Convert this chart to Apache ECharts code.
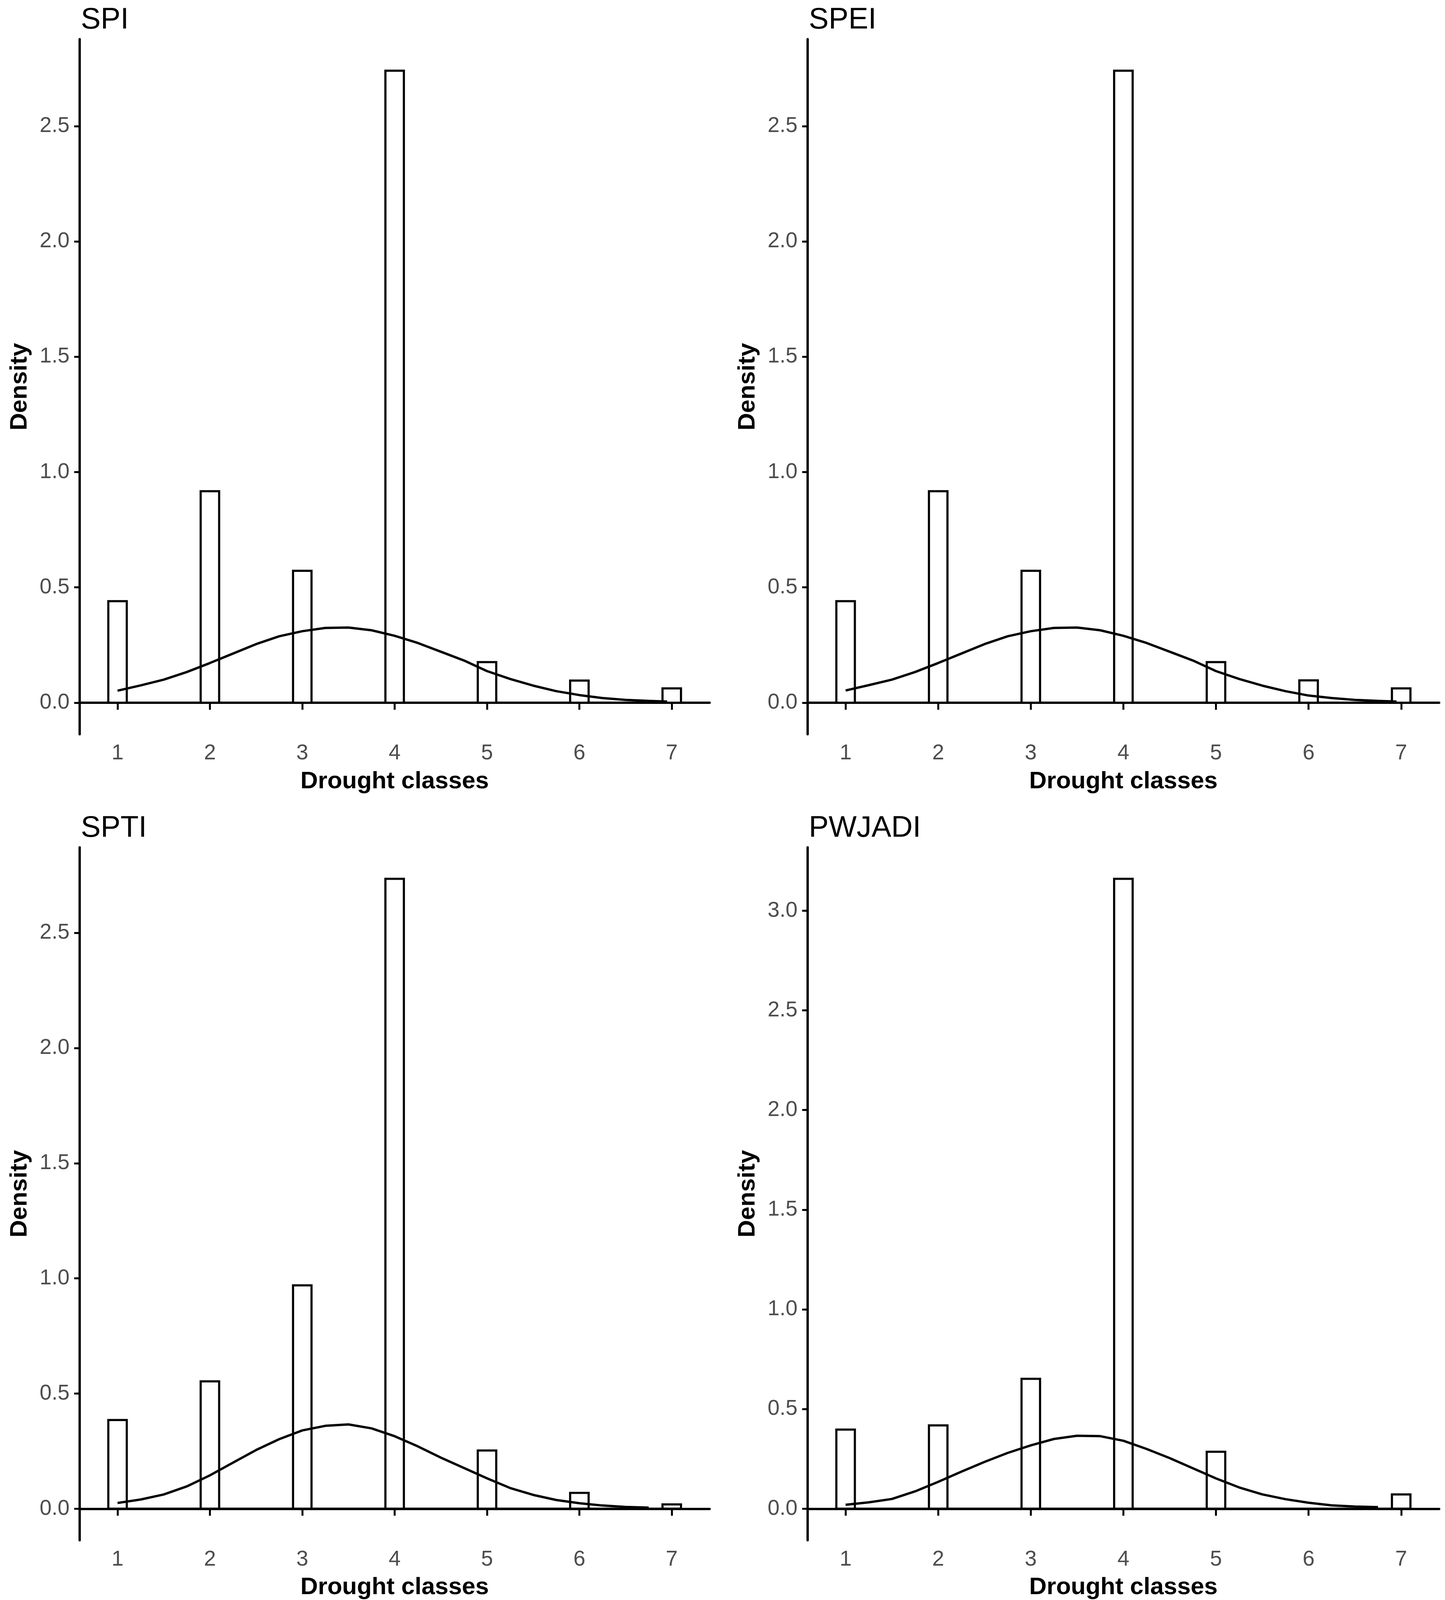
<!DOCTYPE html>
<html>
<head>
<meta charset="utf-8">
<script src="https://cdn.jsdelivr.net/npm/echarts@6/dist/echarts.min.js"></script>
<style>
  html, body { margin: 0; padding: 0; background: #fff; overflow: hidden; }
  #chart { width: 100vw; height: 100vh; }
</style>
</head>
<body>
<div id="chart"></div>
<script>
// drought classes and histogram densities (bins of width 0.2 centred on each class)
var classes = [1, 2, 3, 4, 5, 6, 7];
var spiDensity    = [0.44, 0.917, 0.572, 2.74, 0.176, 0.096, 0.062];
var speiDensity   = [0.44, 0.917, 0.572, 2.74, 0.176, 0.097, 0.062];
var sptiDensity   = [0.385, 0.553, 0.97, 2.735, 0.253, 0.069, 0.019];
var pwjadiDensity = [0.397, 0.418, 0.652, 3.16, 0.286, 0, 0.072];

// fitted density curves
var curveX = [1, 1.25, 1.5, 1.75, 2, 2.25, 2.5, 2.75, 3, 3.25, 3.5, 3.75, 4, 4.25, 4.5, 4.75, 5, 5.25, 5.5, 5.75, 6, 6.25, 6.5, 6.75, 6.95];
var spiCurve    = [0.052, 0.075, 0.100, 0.133, 0.172, 0.213, 0.254, 0.288, 0.310, 0.324, 0.326, 0.314, 0.290, 0.259, 0.221, 0.183, 0.137, 0.103, 0.074, 0.050, 0.033, 0.020, 0.012, 0.008, 0.005];
var speiCurve   = [0.053, 0.076, 0.100, 0.133, 0.172, 0.213, 0.254, 0.288, 0.310, 0.324, 0.326, 0.314, 0.290, 0.259, 0.221, 0.183, 0.137, 0.103, 0.074, 0.050, 0.031, 0.020, 0.012, 0.008, 0.005];
var sptiCurve   = [0.025, 0.040, 0.062, 0.097, 0.145, 0.200, 0.255, 0.302, 0.340, 0.360, 0.366, 0.349, 0.315, 0.271, 0.222, 0.177, 0.132, 0.090, 0.060, 0.038, 0.024, 0.014, 0.008, 0.005];
var pwjadiCurve = [0.020, 0.032, 0.049, 0.087, 0.135, 0.186, 0.235, 0.280, 0.318, 0.350, 0.366, 0.364, 0.341, 0.300, 0.254, 0.203, 0.152, 0.107, 0.072, 0.048, 0.030, 0.017, 0.011, 0.008];

var titles = ['SPI', 'SPEI', 'SPTI', 'PWJADI'];
var xTicks = [1, 2, 3, 4, 5, 6, 7];
var yStep = 0.5;

var panels = [
    { name: titles[0], dens: spiDensity,    curve: spiCurve },
    { name: titles[1], dens: speiDensity,   curve: speiCurve },
    { name: titles[2], dens: sptiDensity,   curve: sptiCurve },
    { name: titles[3], dens: pwjadiDensity, curve: pwjadiCurve }
];

// panel boxes, measured on a 3700 x 4785 page, given as percentages
var W = 3700, H = 4785;
var boxes = [
    { left: 204,  top: 117,  width: 1613, height: 2079 },
    { left: 2068, top: 117,  width: 1617, height: 2079 },
    { left: 204,  top: 2534, width: 1613, height: 2076 },
    { left: 2068, top: 2534, width: 1617, height: 2076 }
];
function pctW(v) { return (v / W * 100) + '%'; }
function pctH(v) { return (v / H * 100) + '%'; }

var FONT = '"Liberation Sans", Arial, sans-serif';
var binW = 0.2;

function makeBins(dens) {
    var out = [];
    var start = classes[0] - binW / 2;
    var n = Math.round((classes[classes.length - 1] - classes[0]) / binW) + 1;
    for (var i = 0; i < n; i++) {
        var lo = start + i * binW;
        var centre = lo + binW / 2;
        var v = 0;
        classes.forEach(function (c, k) {
            if (Math.abs(c - centre) < 1e-6) v = dens[k];
        });
        out.push([lo, lo + binW, v]);
    }
    return out;
}

function renderBin(params, api) {
    var p0 = api.coord([api.value(0), api.value(2)]);
    var p1 = api.coord([api.value(1), 0]);
    return {
        type: 'rect',
        shape: { x: p0[0], y: p0[1], width: p1[0] - p0[0], height: p1[1] - p0[1] },
        style: { fill: '#ffffff', stroke: '#000000', lineWidth: 5.5 }
    };
}

var grid = [], xAxis = [], yAxis = [], series = [], title = [];

panels.forEach(function (p, i) {
    var b = boxes[i];
    var dmax = Math.max.apply(null, p.dens);
    var yTicks = [];
    for (var t = 0; t <= dmax * 1.05 + 1e-9; t += yStep) yTicks.push(+t.toFixed(2));
    var xr = classes[classes.length - 1] + binW / 2 - (classes[0] - binW / 2);

    grid.push({ left: pctW(b.left), top: pctH(b.top), width: pctW(b.width), height: pctH(b.height) });
    title.push({
        text: p.name, left: pctW(b.left - 2), top: pctH(b.top - 106),
        textStyle: { fontFamily: FONT, fontSize: 76, fontWeight: 'normal', color: '#000' }
    });
    xAxis.push({
        type: 'value', gridIndex: i,
        min: classes[0] - binW / 2 - xr * 0.05,
        max: classes[classes.length - 1] + binW / 2 + xr * 0.05,
        name: 'Drought classes', nameLocation: 'middle', nameGap: 90,
        nameTextStyle: { fontFamily: FONT, fontSize: 62, fontWeight: 'bold', color: '#000' },
        axisLine: { lineStyle: { color: '#000', width: 6 } },
        axisTick: { show: true, length: 18, customValues: xTicks, lineStyle: { color: '#000', width: 5 } },
        axisLabel: { customValues: xTicks, margin: 22, fontFamily: FONT, fontSize: 55, color: '#4d4d4d' },
        splitLine: { show: false }
    });
    yAxis.push({
        type: 'value', gridIndex: i,
        min: -dmax * 0.05, max: dmax * 1.05,
        name: 'Density', nameLocation: 'middle', nameGap: 122,
        nameTextStyle: { fontFamily: FONT, fontSize: 62, fontWeight: 'bold', color: '#000' },
        axisLine: { show: true, lineStyle: { color: '#000', width: 6 } },
        axisTick: { show: true, length: 14, customValues: yTicks, lineStyle: { color: '#000', width: 5 } },
        axisLabel: {
            customValues: yTicks, margin: 26, fontFamily: FONT, fontSize: 55, color: '#4d4d4d',
            formatter: function (v) { return v.toFixed(1); }
        },
        splitLine: { show: false }
    });
    series.push({
        type: 'custom', xAxisIndex: i, yAxisIndex: i,
        renderItem: renderBin,
        encode: { x: [0, 1], y: 2 },
        data: makeBins(p.dens),
        clip: false, silent: true, z: 2
    });
    series.push({
        type: 'line', xAxisIndex: i, yAxisIndex: i,
        data: p.curve.map(function (y, k) { return [curveX[k], y]; }),
        showSymbol: false, smooth: false, silent: true, z: 3,
        lineStyle: { color: '#000', width: 6 }
    });
});

var myChart = echarts.init(document.getElementById('chart'), null, { renderer: 'canvas' });
myChart.setOption({
    backgroundColor: '#ffffff',
    animation: false,
    title: title,
    grid: grid,
    xAxis: xAxis,
    yAxis: yAxis,
    series: series
});
</script>
</body>
</html>
